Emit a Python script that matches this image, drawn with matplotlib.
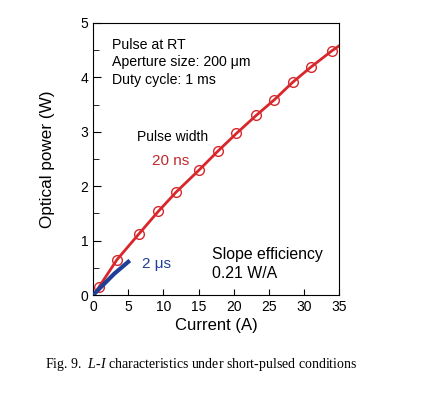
import matplotlib.pyplot as plt
from matplotlib.ticker import MultipleLocator

plt.rcParams['font.family'] = ['Liberation Sans', 'DejaVu Sans']
plt.rcParams['mathtext.fontset'] = 'custom'
plt.rcParams['mathtext.rm'] = 'Liberation Serif'
plt.rcParams['mathtext.it'] = 'Liberation Serif:italic'

# 20 ns pulse data (measured points)
I_20ns = [0.8, 3.4, 6.5, 9.3, 11.8, 15.1, 17.8, 20.4, 23.2, 25.8, 28.4, 31.0, 34.0]
P_20ns = [0.14, 0.65, 1.12, 1.54, 1.89, 2.30, 2.65, 2.97, 3.30, 3.59, 3.91, 4.19, 4.49]
# fitted curve through points
I_fit = [0.3, 0.8, 3.4, 6.5, 9.3, 11.8, 15.1, 17.8, 20.4, 23.2, 25.8, 28.4, 31.0, 34.0, 35.0]
P_fit = [0.04, 0.14, 0.65, 1.12, 1.54, 1.89, 2.30, 2.65, 2.97, 3.30, 3.59, 3.91, 4.19, 4.49, 4.58]

# 2 us pulse data
I_2us = [0.0, 1.0, 2.0, 3.0, 4.0, 5.0]
P_2us = [0.0, 0.13, 0.26, 0.39, 0.50, 0.61]

RED = '#d8262b'
BLUE = '#1f3f96'

fig = plt.figure(figsize=(4.41, 3.95), dpi=100)
ax = fig.add_axes([0.211, 0.253, 0.558, 0.689])

ax.plot(I_fit, P_fit, '-', color=RED, linewidth=2.0, zorder=2)
ax.plot(I_20ns, P_20ns, 'o', mfc='none', mec=RED, markersize=7, mew=1.0, zorder=3)
ax.plot(I_2us, P_2us, '-', color=BLUE, linewidth=3.0, zorder=4)

ax.set_xlim(0, 35)
ax.set_ylim(0, 5)
ax.xaxis.set_major_locator(MultipleLocator(5))
ax.yaxis.set_major_locator(MultipleLocator(1))
ax.yaxis.set_minor_locator(MultipleLocator(0.5))
ax.tick_params(axis='both', which='both', direction='in', labelsize=10)
ax.tick_params(axis='y', which='major', length=6)
ax.tick_params(axis='y', which='minor', length=4)
ax.tick_params(axis='x', which='major', length=4)

ax.set_xlabel('Current (A)', fontsize=12, labelpad=3)
ax.set_ylabel('Optical power (W)', fontsize=12.3, labelpad=18)

ax.text(2.7, 4.72, 'Pulse at RT\nAperture size: 200 \u03bcm\nDuty cycle: 1 ms',
        fontsize=10.2, va='top', ha='left', linespacing=1.3)
ax.text(6.2, 2.9, 'Pulse width', fontsize=10, va='center', ha='left')
ax.text(8.4, 2.47, '20 ns', fontsize=11, color='#c0282c', va='center', ha='left')
ax.text(6.9, 0.57, '2 \u03bcs', fontsize=11, color=BLUE, va='center', ha='left')
ax.text(16.9, 0.75, 'Slope efficiency', fontsize=11.4, va='center', ha='left')
ax.text(16.9, 0.39, '0.21 W/A', fontsize=11.4, va='center', ha='left')

fig.text(0.102, 0.078, 'Fig. 9.  $\\it{L}$-$\\it{I}$ characteristics under short-pulsed conditions',
         fontsize=10, family='Liberation Serif', va='center', ha='left')

fig.savefig('out.png', dpi=100)
